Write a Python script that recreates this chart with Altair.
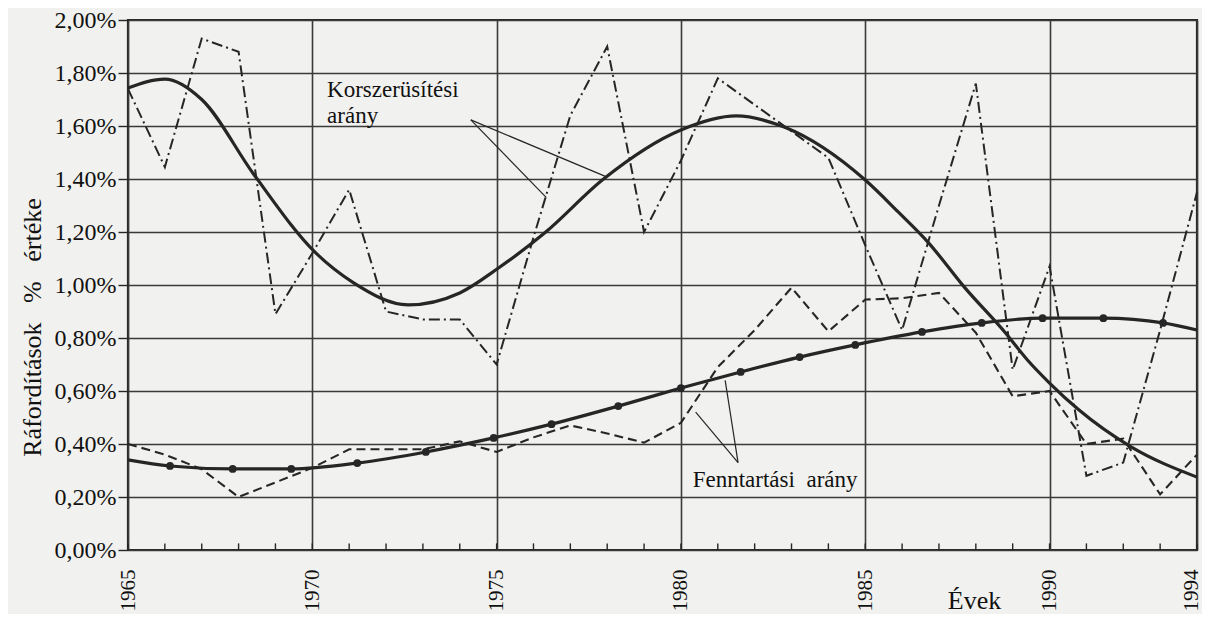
import altair as alt
import pandas as pd

# ---------------- data ----------------
years = list(range(1965, 1995))

# Korszerűsítési arány – yearly actual values (dash-dot line)
korsz_actual = [1.74, 1.445, 1.93, 1.88, 0.89, 1.12, 1.36, 0.90, 0.87, 0.87,
                0.70, 1.18, 1.64, 1.90, 1.20, 1.47, 1.78, 1.68, 1.58, 1.48,
                1.15, 0.83, 1.30, 1.76, 0.68, 1.07, 0.28, 0.33, 0.83, 1.35]

# Fenntartási arány – yearly actual values (dashed line)
fennt_actual = [0.40, 0.36, 0.305, 0.20, 0.255, 0.31, 0.38, 0.38, 0.38, 0.41,
                0.37, 0.425, 0.47, 0.44, 0.405, 0.48, 0.69, 0.83, 0.99, 0.825,
                0.945, 0.95, 0.97, 0.82, 0.58, 0.60, 0.40, 0.42, 0.21, 0.36]

# Korszerűsítési arány – smooth trend curve
korsz_trend_x = [1965.0, 1966.0, 1967.0, 1968.4, 1970.1, 1971.1, 1972.6, 1974.0,
                 1975.05, 1976.3, 1977.9, 1980.0, 1981.5, 1982.8, 1985.0, 1985.9,
                 1986.7, 1987.7, 1988.8, 1989.4, 1990.0, 1990.8, 1992.2, 1994.0]
korsz_trend_y = [1.743, 1.777, 1.70, 1.42, 1.12, 1.01, 0.925, 0.97,
                 1.064, 1.196, 1.40, 1.585, 1.638, 1.596, 1.396, 1.275,
                 1.162, 0.99, 0.82, 0.717, 0.63, 0.528, 0.39, 0.275]

# Fenntartási arány – smooth trend curve with its dot markers
fennt_trend_x = [1965.0, 1966.14, 1967.84, 1969.43, 1971.22, 1973.08, 1974.92,
                 1976.49, 1978.30, 1980.0, 1981.62, 1983.22, 1984.73, 1986.54,
                 1988.16, 1989.81, 1991.46, 1993.08, 1994.0]
fennt_trend_y = [0.34, 0.317, 0.306, 0.306, 0.328, 0.370, 0.423,
                 0.475, 0.543, 0.611, 0.672, 0.728, 0.774, 0.823,
                 0.857, 0.875, 0.875, 0.857, 0.83]
fennt_marker = [False] + [True] * 17 + [False]

# annotation texts and leader lines
ann_text = [["Korszerüsítési", "arány"], ["Fenntartási\u00a0\u00a0arány"]]
ann_x = [1970.4, 1980.32]
ann_y = [1.71, 0.238]

lead_x1 = [1974.3, 1974.3, 1981.55, 1981.55]
lead_y1 = [1.623, 1.623, 0.33, 0.33]
lead_x2 = [1977.95, 1976.35, 1980.4, 1981.2]
lead_y2 = [1.41, 1.33, 0.52, 0.64]

x_label_years = [1965, 1970, 1975, 1980, 1985, 1990, 1994]
y_ticks = [0.0, 0.2, 0.4, 0.6, 0.8, 1.0, 1.2, 1.4, 1.6, 1.8, 2.0]

# ---------------- styling ----------------
FONT = "Liberation Serif"
INK = "#262626"
GRID = "#3a3a3a"

x_scale = alt.Scale(domain=[1965, 1994], nice=False, zero=False)
y_scale = alt.Scale(domain=[0, 2.0], nice=False, zero=True)

x_axis = alt.Axis(values=x_label_years, grid=True, gridColor=GRID, gridWidth=1.6,
                  gridOpacity=1, ticks=False, domain=False, labelAngle=270,
                  labelFont=FONT, labelFontSize=21, labelColor="#111",
                  labelPadding=19, format="d", labelFlush=False,
                  labelOffset={"condition": {"test": "datum.value == 1994", "value": -6},
                               "value": 0},
                  title="Évek", titleFont=FONT, titleFontSize=26,
                  titleFontWeight="normal", titleColor="#111",
                  titleX=846, titleY=58, titleAlign="center",
                  titleBaseline="alphabetic")
y_axis = alt.Axis(values=y_ticks, grid=True, gridColor=GRID, gridWidth=1.6,
                  gridOpacity=1, tickSize=10, tickColor=INK, tickWidth=1.4,
                  domain=False, labelFont=FONT, labelFontSize=24,
                  labelColor="#111", labelPadding=2, labelFlush=False,
                  labelExpr="replace(format(datum.value, '.2f'), '.', ',') + '%'",
                  title="Ráfordítások\u00a0\u00a0\u00a0%\u00a0\u00a0\u00a0értéke",
                  titleFont=FONT, titleFontSize=26, titleFontWeight="normal",
                  titleColor="#111", titleAngle=270, titleX=-96, titleY=307,
                  titleAlign="center", titleBaseline="middle")


def X(field):
    return alt.X(field, type="quantitative", scale=x_scale, axis=x_axis)


def Y(field):
    return alt.Y(field, type="quantitative", scale=y_scale, axis=y_axis)


df_actual = pd.DataFrame({"year": years, "korsz": korsz_actual, "fennt": fennt_actual})
df_ktrend = pd.DataFrame({"x": korsz_trend_x, "y": korsz_trend_y})
df_ftrend = pd.DataFrame({"x": fennt_trend_x, "y": fennt_trend_y, "m": fennt_marker})
df_ann = pd.DataFrame({"x": ann_x, "y": ann_y, "t": ann_text})
df_lead = pd.DataFrame({"x1": lead_x1, "y1": lead_y1, "x2": lead_x2, "y2": lead_y2})
df_ticks = pd.DataFrame({"year": years, "y0": [0.0] * len(years), "y1": [0.025] * len(years)})

axes_layer = alt.Chart(df_ticks).mark_rule(color=INK, strokeWidth=1.4).encode(
    x=X("year"), y=Y("y0"), y2="y1")

korsz_line = alt.Chart(df_actual).mark_line(
    color=INK, strokeWidth=2.0, strokeDash=[11, 4, 2, 4]).encode(
    x=X("year"), y=Y("korsz"))

fennt_line = alt.Chart(df_actual).mark_line(
    color=INK, strokeWidth=2.1, strokeDash=[9, 5]).encode(
    x=X("year"), y=Y("fennt"))

ktrend = alt.Chart(df_ktrend).mark_line(
    color=INK, strokeWidth=3.2, interpolate="monotone").encode(
    x=X("x"), y=Y("y"))

ftrend = alt.Chart(df_ftrend).mark_line(
    color=INK, strokeWidth=3.2, interpolate="monotone").encode(
    x=X("x"), y=Y("y"))

fdots = alt.Chart(df_ftrend).transform_filter("datum.m").mark_circle(
    color=INK, size=60, opacity=1).encode(x=X("x"), y=Y("y"))

leads = alt.Chart(df_lead).mark_rule(color=INK, strokeWidth=1.2).encode(
    x=X("x1"), y=Y("y1"), x2="x2", y2="y2")

labels = alt.Chart(df_ann).mark_text(
    font=FONT, fontSize=23, color="#111", align="left", lineHeight=26,
    baseline="alphabetic").encode(x=X("x"), y=Y("y"), text="t")

chart = alt.layer(axes_layer, korsz_line, fennt_line, ktrend, ftrend, fdots,
                  leads, labels).properties(
    width=1069, height=530,
    autosize="none",
    padding={"left": 120, "top": 12, "right": 5, "bottom": 64},
    background="#f1f1ef",
).configure_view(stroke=INK, strokeWidth=2.2)

chart.save("out.html", embed_options={"renderer": "svg", "actions": False})
